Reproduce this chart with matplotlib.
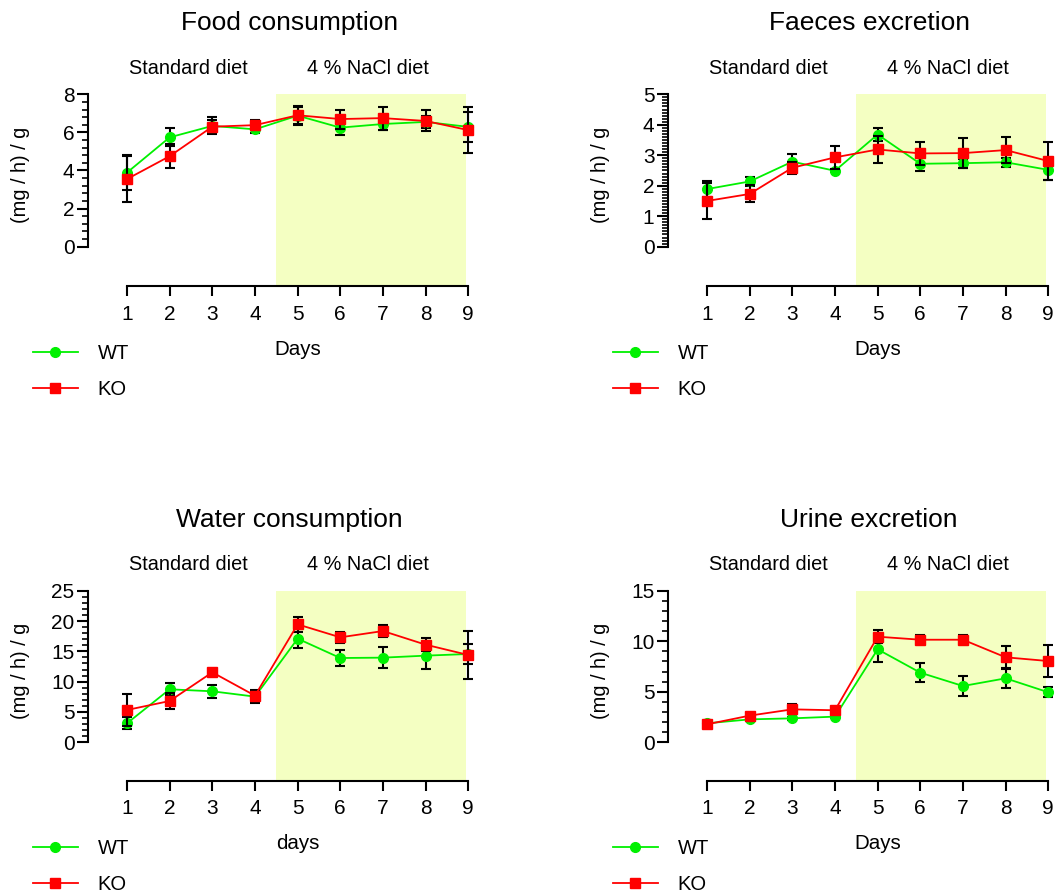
import matplotlib
matplotlib.use('Agg')
import matplotlib.pyplot as plt
from matplotlib.ticker import MultipleLocator
import matplotlib.transforms as mtransforms

plt.rcParams['font.family'] = ['Liberation Sans', 'DejaVu Sans']

FIG_W, FIG_H = 1057, 893
GREEN = '#00F000'
RED = '#FF0000'
SHADE = '#F4FFC2'

days = [1, 2, 3, 4, 5, 6, 7, 8, 9]
titles = ['Food consumption', 'Faeces excretion', 'Water consumption', 'Urine excretion']
xlabels = ['Days', 'Days', 'days', 'Days']
ymax = [8, 5, 25, 15]
major_step = [2, 1, 5, 5]
minor_step = [0.4, 0.1, 1, 1]

# values (mean, error)
food_wt = [3.89, 5.74, 6.34, 6.16, 6.88, 6.25, 6.44, 6.55, 6.29]
food_wt_err = [0.9, 0.48, 0.45, 0.2, 0.45, 0.37, 0.3, 0.3, 0.77]
food_ko = [3.55, 4.75, 6.30, 6.38, 6.90, 6.70, 6.75, 6.60, 6.12]
food_ko_err = [1.2, 0.62, 0.35, 0.25, 0.5, 0.5, 0.6, 0.55, 1.2]

faeces_wt = [1.89, 2.14, 2.79, 2.49, 3.68, 2.72, 2.74, 2.77, 2.52]
faeces_wt_err = [0.25, 0.14, 0.24, 0.05, 0.22, 0.23, 0.15, 0.15, 0.34]
faeces_ko = [1.50, 1.73, 2.59, 2.93, 3.19, 3.06, 3.07, 3.17, 2.81]
faeces_ko_err = [0.6, 0.28, 0.2, 0.37, 0.43, 0.38, 0.49, 0.42, 0.63]

water_wt = [3.13, 8.74, 8.41, 7.53, 17.09, 13.9, 13.96, 14.29, 14.56]
water_wt_err = [1.0, 1.0, 1.1, 1.0, 1.6, 1.3, 1.75, 2.2, 1.7]
water_ko = [5.33, 6.81, 11.54, 7.69, 19.45, 17.31, 18.35, 16.1, 14.4]
water_ko_err = [2.64, 1.27, 0.3, 1.0, 1.25, 0.95, 1.05, 1.1, 3.9]

urine_wt = [1.88, 2.27, 2.37, 2.54, 9.2, 6.89, 5.57, 6.33, 4.95]
urine_wt_err = [0.1, 0.15, 0.15, 0.15, 1.3, 0.95, 0.95, 0.95, 0.5]
urine_ko = [1.78, 2.64, 3.26, 3.17, 10.45, 10.15, 10.15, 8.41, 8.04]
urine_ko_err = [0.1, 0.3, 0.5, 0.2, 0.63, 0.45, 0.45, 1.1, 1.55]

panels = [
    (food_wt, food_wt_err, food_ko, food_ko_err),
    (faeces_wt, faeces_wt_err, faeces_ko, faeces_ko_err),
    (water_wt, water_wt_err, water_ko, water_ko_err),
    (urine_wt, urine_wt_err, urine_ko, urine_ko_err),
]

# axes boxes in pixels: left, top(yaxis max), right(x=9), bottom(x axis)
boxes = [
    (88.3, 94.3, 468.3, 286.0),
    (668.3, 94.3, 1048.3, 286.0),
    (88.3, 590.7, 468.3, 780.7),
    (668.3, 590.7, 1048.3, 780.7),
]
below = [0.258, 0.258, 0.2533, 0.2533]

fig = plt.figure(figsize=(FIG_W / 100, FIG_H / 100), dpi=100)

for i in range(4):
    l, t, r, b = boxes[i]
    ax = fig.add_axes([l / FIG_W, 1 - b / FIG_H, (r - l) / FIG_W, (b - t) / FIG_H])
    wt, wt_err, ko, ko_err = panels[i]
    top = ymax[i]

    ax.set_xlim(0.093, 9.0)
    ax.set_ylim(-below[i] * top, top)
    ax.axvspan(4.5, 8.94, color=SHADE, lw=0, zorder=0)

    ax.errorbar(days, wt, yerr=wt_err, fmt='none', ecolor='black', elinewidth=1.5,
                capsize=3.6, capthick=1.5, zorder=2, clip_on=False)
    ax.plot(days, wt, color=GREEN, lw=1.3, marker='o', ms=7, label='WT',
            zorder=3, clip_on=False)
    ax.errorbar(days, ko, yerr=ko_err, fmt='none', ecolor='black', elinewidth=1.5,
                capsize=3.6, capthick=1.5, zorder=4, clip_on=False)
    ax.plot(days, ko, color=RED, lw=1.3, marker='s', ms=7, label='KO',
            zorder=5, clip_on=False)

    for s in ['top', 'right']:
        ax.spines[s].set_visible(False)
    ax.spines['left'].set_bounds(0, top)
    ax.spines['bottom'].set_bounds(1, 9)
    ax.spines['left'].set_linewidth(1.5)
    ax.spines['bottom'].set_linewidth(1.5)

    ax.set_xticks(days)
    ax.yaxis.set_major_locator(MultipleLocator(major_step[i]))
    ax.set_yticks([v for v in ax.get_yticks() if 0 <= v <= top])
    minors = []
    k = 1
    while k * minor_step[i] < top - 1e-9:
        minors.append(k * minor_step[i])
        k += 1
    ax.set_yticks(minors, minor=True)
    ax.tick_params(axis='y', which='major', length=8, width=1.5, labelsize=15, pad=2)
    ax.tick_params(axis='y', which='minor', length=4, width=1.2)
    ax.tick_params(axis='x', length=7, width=1.5, labelsize=15, pad=6.5)

    trans = mtransforms.blended_transform_factory(ax.transData, ax.transAxes)
    h = b - t
    ax.text(4.8, 1 + 71 / h, titles[i], transform=trans, ha='center', va='center',
            fontsize=19)
    ax.text(2.43, 1 + 26 / h, 'Standard diet', transform=trans, ha='center',
            va='center', fontsize=14.3)
    ax.text(6.65, 1 + 26 / h, '4 % NaCl diet', transform=trans, ha='center',
            va='center', fontsize=14.3)
    ax.text(5.0, -63 / h, xlabels[i], transform=trans, ha='center', va='center',
            fontsize=14.8)
    ax.text(-68 / (r - l), 0.58, '(mg / h) / g', transform=ax.transAxes,
            rotation=90, ha='center', va='center', fontsize=14.4)

    ax.legend(loc='upper left', bbox_to_anchor=(-55 / (r - l), -(58) / h),
              frameon=False, fontsize=14.5, handlelength=2.2, handletextpad=1.0,
              labelspacing=0.85, borderpad=0, borderaxespad=0)

fig.savefig('out.png', dpi=100)
